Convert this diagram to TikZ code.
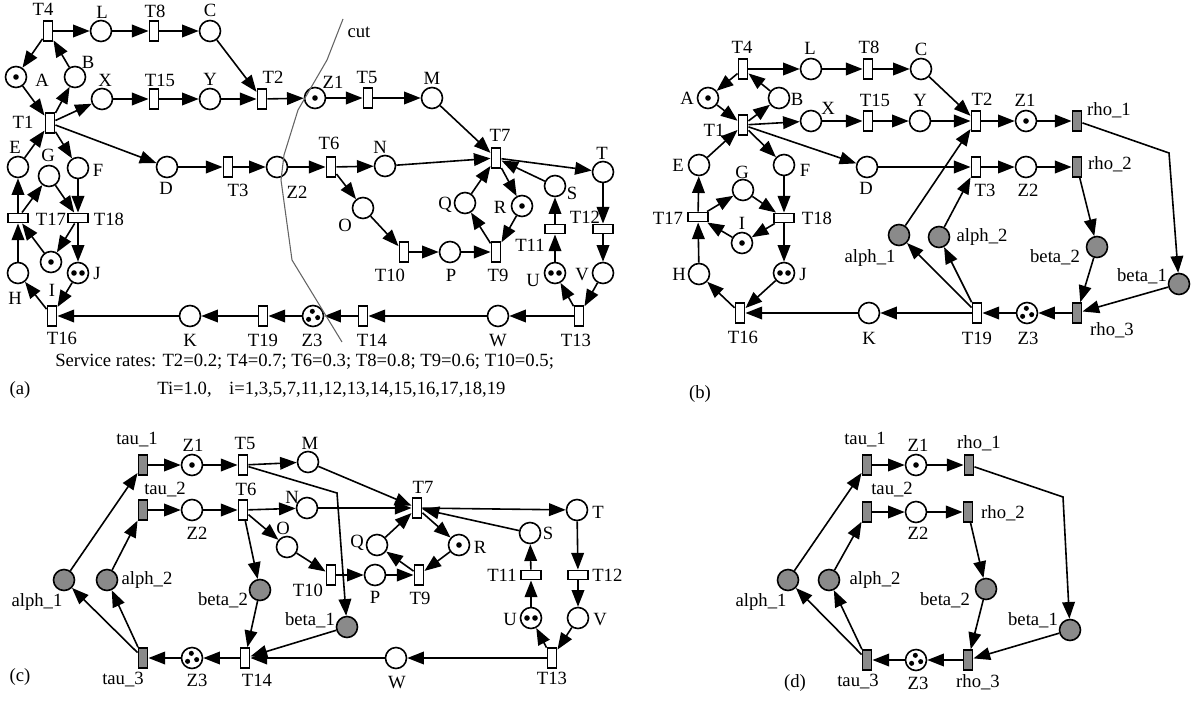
\documentclass[tikz,border=0pt]{standalone}
\usepackage{fontspec}
\setmainfont{Liberation Serif}
\usetikzlibrary{arrows.meta}
\definecolor{gfill}{RGB}{138,138,138}
\definecolor{cutc}{RGB}{100,100,100}
\begin{document}
\begin{tikzpicture}[x=0.75pt,y=-0.75pt,
 pl/.style={circle,draw,line width=1.2pt,minimum size=15.75pt,inner sep=0pt,fill=white},
 gp/.style={pl,fill=gfill},
 tv/.style={rectangle,draw,line width=1.2pt,minimum width=7pt,minimum height=15pt,inner sep=0pt,fill=white},
 th/.style={rectangle,draw,line width=1.2pt,minimum width=15pt,minimum height=7pt,inner sep=0pt,fill=white},
 tg/.style={tv,fill=gfill},
 arc/.style={line width=1.2pt,-{Triangle[length=12.5pt,width=9.5pt]}},
 lbl/.style={inner sep=0pt,font=\fontsize{14}{16}\selectfont},
 tka/.style={path picture={\fill[black] (path picture bounding box.center) circle (2.1pt);}},
 tkb/.style={path picture={\fill[black,shift={(path picture bounding box.center)}] (-3pt,0pt) circle (2.1pt) (3pt,0pt) circle (2.1pt);}},
 tkc/.style={path picture={\fill[black,shift={(path picture bounding box.center)}] (-0.5pt,3.5pt) circle (1.9pt) (-3.3pt,-2.5pt) circle (1.9pt) (3.5pt,-1.2pt) circle (1.9pt);}},
]
\useasboundingbox (0,0) rectangle (1194,700);
% ================= (a) =================
\node[tv] (aT4) at (48,31) {};
\node[pl] (aL) at (101,31) {};
\node[tv] (aT8) at (154,31) {};
\node[pl] (aC) at (210,31) {};
\node[pl,tka] (aA) at (16,77) {};
\node[pl] (aB) at (75,77) {};
\node[tv] (aT1) at (50,123) {};
\node[pl] (aX) at (102,99) {};
\node[tv] (aT15) at (154,99) {};
\node[pl] (aY) at (210,99) {};
\node[tv] (aT2) at (262,99) {};
\node[pl,tka] (aZ1) at (315,98) {};
\node[tv] (aT5) at (368,98) {};
\node[pl] (aM) at (432,98) {};
\node[pl] (aE) at (18,167) {};
\node[pl] (aG) at (49,176) {};
\node[pl] (aF) at (78,168) {};
\node[pl] (aD) at (167,167) {};
\node[tv] (aT3) at (228,167) {};
\node[pl] (aZ2) at (277,167) {};
\node[tv] (aT6) at (331,167) {};
\node[pl] (aN) at (385,166) {};
\node[tv] (aT7) at (496,158) {};
\node[pl] (aT) at (603,172) {};
\node[pl] (aS) at (555,186) {};
\node[pl] (aQ) at (465,203) {};
\node[pl,tka] (aR) at (522,206) {};
\node[pl] (aO) at (363,208) {};
\node[tv] (aT10) at (404,252) {};
\node[pl] (aP) at (450,252) {};
\node[tv] (aT9) at (496,252) {};
\node[th] (aT11) at (555,229) {};
\node[th] (aT12) at (603,229) {};
\node[pl,tkb] (aU) at (555,273) {};
\node[pl] (aV) at (603,273) {};
\node[th] (aT17) at (18,218) {};
\node[th] (aT18) at (78,218) {};
\node[pl,tka] (aI) at (51,262) {};
\node[pl,tkb] (aJ) at (78,273) {};
\node[pl] (aH) at (18,273) {};
\node[tv] (aT16) at (52,316) {};
\node[pl] (aK) at (190,316) {};
\node[tv] (aT19) at (263,316) {};
\node[pl,tkc] (aZ3) at (313,316) {};
\node[tv] (aT14) at (363,316) {};
\node[pl] (aW) at (498,316) {};
\node[tv] (aT13) at (579,316) {};
\foreach \s/\t in {aT4/aA,aB/aT4,aT4/aL,aL/aT8,aT8/aC,aC/aT2,aA/aT1,aT1/aB,aT1/aX,aX/aT15,aT15/aY,aY/aT2,aT2/aZ1,aZ1/aT5,aT5/aM,aM/aT7,aE/aT1,aT1/aF,aT1/aD,aD/aT3,aT3/aZ2,aZ2/aT6,aT6/aN,aN/aT7,aT6/aO,aO/aT10,aT10/aP,aP/aT9,aT9/aQ,aQ/aT7,aT7/aR,aR/aT9,aT7/aT,aS/aT7,aT/aT12,aT12/aV,aV/aT13,aT13/aU,aU/aT11,aT11/aS,aT13/aW,aW/aT14,aT14/aZ3,aZ3/aT19,aT19/aK,aK/aT16,aJ/aT16,aT16/aH,aH/aT17,aT17/aE,aT17/aG,aG/aT18,aF/aT18,aT18/aI,aI/aT17,aT18/aJ}
  \draw[arc] (\s) -- (\t);
\draw[cutc,line width=0.8pt] (343,19) -- (327,60) -- (298,110) -- (284,155) -- (281,180) -- (292,260) -- (342,342);
\node[lbl] (la1) at (359,32) {cut};
\node[lbl] (la2) at (43,9) {T4};
\node[lbl] (la3) at (102,12) {L};
\node[lbl] (la4) at (155,11) {T8};
\node[lbl] (la5) at (210,10) {C};
\node[lbl] (la6) at (42,80) {A};
\node[lbl] (la7) at (88,62) {B};
\node[lbl] (la8) at (105,80) {X};
\node[lbl] (la9) at (160,80) {T15};
\node[lbl] (la10) at (210,79) {Y};
\node[lbl] (la11) at (273,77) {T2};
\node[lbl] (la12) at (23,122) {T1};
\node[lbl] (la13) at (15,147) {E};
\node[lbl] (la14) at (48,155) {G};
\node[lbl] (la15) at (98,170) {F};
\node[lbl] (la16) at (166,188) {D};
\node[lbl] (la17) at (238,190) {T3};
\node[lbl] (la18) at (297,192) {Z2};
\node[lbl] (la19) at (333,82) {Z1};
\node[lbl] (la20) at (367,77) {T5};
\node[lbl] (la21) at (432,78) {M};
\node[lbl] (la22) at (329,143) {T6};
\node[lbl] (la23) at (380,147) {N};
\node[lbl] (la24) at (500,135) {T7};
\node[lbl] (la25) at (602,153) {T};
\node[lbl] (la26) at (572,193) {S};
\node[lbl] (la27) at (445,205) {Q};
\node[lbl] (la28) at (500,207) {R};
\node[lbl] (la29) at (345,225) {O};
\node[lbl] (la30) at (390,275) {T10};
\node[lbl] (la31) at (451,275) {P};
\node[lbl] (la32) at (498,275) {T9};
\node[lbl] (la33) at (530,245) {T11};
\node[lbl] (la34) at (585,217) {T12};
\node[lbl] (la35) at (533,280) {U};
\node[lbl] (la36) at (582,275) {V};
\node[lbl] (la37) at (51,219) {T17};
\node[lbl] (la38) at (109,219) {T18};
\node[lbl] (la39) at (52,290) {I};
\node[lbl] (la40) at (97,273) {J};
\node[lbl] (la41) at (15,298) {H};
\node[lbl] (la42) at (62,338) {T16};
\node[lbl] (la43) at (190,340) {K};
\node[lbl] (la44) at (263,340) {T19};
\node[lbl] (la45) at (312,340) {Z3};
\node[lbl] (la46) at (372,340) {T14};
\node[lbl] (la47) at (498,341) {W};
\node[lbl] (la48) at (576,340) {T13};
\node[lbl,anchor=west] (la49) at (55,362) {Service rates: T2=0.2; T4=0.7; T6=0.3; T8=0.8; T9=0.6; T10=0.5;};
\node[lbl,anchor=west] (la50) at (157,390) {Ti=1.0,\hspace{13pt}i=1,3,5,7,11,12,13,14,15,16,17,18,19};
\node[lbl] (la51) at (20,390) {(a)};
% ================= (b) =================
\node[tv] (bT4) at (743,69) {};
\node[pl] (bL) at (811,69) {};
\node[tv] (bT8) at (868,69) {};
\node[pl] (bC) at (921,69) {};
\node[pl,tka] (bA) at (708,98) {};
\node[pl] (bB) at (779,98) {};
\node[tv] (bT1) at (743,125) {};
\node[pl] (bX) at (811,121) {};
\node[tv] (bT15) at (868,121) {};
\node[pl] (bY) at (920,121) {};
\node[tv] (bT2) at (976,121) {};
\node[pl,tka] (bZ1) at (1026,121) {};
\node[tg] (brho1) at (1077,121) {};
\node[pl] (bE) at (699,165) {};
\node[pl] (bF) at (784,165) {};
\node[pl] (bD) at (867,167) {};
\node[pl] (bG) at (743,190) {};
\node[tv] (bT3) at (976,167) {};
\node[pl] (bZ2) at (1026,167) {};
\node[tg] (brho2) at (1077,167) {};
\node[th] (bT17) at (698,217) {};
\node[th] (bT18) at (784,218) {};
\node[pl,tka] (bI) at (742,243) {};
\node[pl,tkb] (bJ) at (784,273) {};
\node[pl] (bH) at (699,274) {};
\node[tv] (bT16) at (740,313) {};
\node[pl] (bK) at (869,313) {};
\node[tv] (bT19) at (977,313) {};
\node[pl,tkc] (bZ3) at (1027,313) {};
\node[tg] (brho3) at (1077,313) {};
\node[gp] (balph1) at (899,235) {};
\node[gp] (balph2) at (939,237) {};
\node[gp] (bbeta2) at (1097,247) {};
\node[gp] (bbeta1) at (1179,284) {};
\coordinate (bk1) at (1169,153);
\foreach \s/\t in {bT4/bA,bB/bT4,bT4/bL,bL/bT8,bT8/bC,bC/bT2,bA/bT1,bT1/bB,bT1/bX,bX/bT15,bT15/bY,bY/bT2,bT2/bZ1,bZ1/brho1,bE/bT1,bT1/bF,bT1/bD,bD/bT3,bT3/bZ2,bZ2/brho2,brho2/bbeta2,bbeta2/brho3,bbeta1/brho3,brho3/bZ3,bZ3/bT19,bT19/bK,bK/bT16,bJ/bT16,bT16/bH,bH/bT17,bT17/bE,bT17/bG,bG/bT18,bF/bT18,bT18/bI,bI/bT17,bT18/bJ,bT19/balph1,bT19/balph2,balph1/bT2,balph2/bT3}
  \draw[arc] (\s) -- (\t);
\draw[arc] (brho1) -- (bk1) -- (bbeta1);
\node[lbl] (lb1) at (742,47) {T4};
\node[lbl] (lb2) at (810,48) {L};
\node[lbl] (lb3) at (869,47) {T8};
\node[lbl] (lb4) at (921,49) {C};
\node[lbl] (lb5) at (687,98) {A};
\node[lbl] (lb6) at (797,99) {B};
\node[lbl] (lb7) at (714,130) {T1};
\node[lbl] (lb8) at (828,108) {X};
\node[lbl] (lb9) at (875,100) {T15};
\node[lbl] (lb10) at (920,100) {Y};
\node[lbl] (lb11) at (982,99) {T2};
\node[lbl] (lb12) at (1025,100) {Z1};
\node[lbl] (lb13) at (1109,110) {rho\_1};
\node[lbl] (lb14) at (678,165) {E};
\node[lbl] (lb15) at (805,170) {F};
\node[lbl] (lb16) at (866,188) {D};
\node[lbl] (lb17) at (742,172) {G};
\node[lbl] (lb18) at (985,190) {T3};
\node[lbl] (lb19) at (1028,190) {Z2};
\node[lbl] (lb20) at (1110,164) {rho\_2};
\node[lbl] (lb21) at (668,218) {T17};
\node[lbl] (lb22) at (817,218) {T18};
\node[lbl] (lb23) at (742,223) {I};
\node[lbl] (lb24) at (679,274) {H};
\node[lbl] (lb25) at (803,274) {J};
\node[lbl] (lb26) at (743,337) {T16};
\node[lbl] (lb27) at (869,338) {K};
\node[lbl] (lb28) at (977,338) {T19};
\node[lbl] (lb29) at (1028,338) {Z3};
\node[lbl] (lb30) at (1112,330) {rho\_3};
\node[lbl] (lb31) at (870,258) {alph\_1};
\node[lbl] (lb32) at (982,237) {alph\_2};
\node[lbl] (lb33) at (1055,257) {beta\_2};
\node[lbl] (lb34) at (1142,276) {beta\_1};
\node[lbl] (lb35) at (700,394) {(b)};
% ================= (c) =================
\node[tg] (ctau1) at (143,465) {};
\node[pl,tka] (cZ1) at (192,465) {};
\node[tv] (cT5) at (243,465) {};
\node[pl] (cM) at (308,462) {};
\node[tg] (ctau2) at (143,510) {};
\node[pl] (cZ2) at (192,510) {};
\node[tv] (cT6) at (243,510) {};
\node[pl] (cN) at (307,508) {};
\node[pl] (cO) at (287,547) {};
\node[tv] (cT7) at (417,508) {};
\node[pl] (cT) at (577,510) {};
\node[pl] (cS) at (530,533) {};
\node[pl] (cQ) at (377,545) {};
\node[pl,tka] (cR) at (459,545) {};
\node[tv] (cT10) at (331,575) {};
\node[pl] (cP) at (375,575) {};
\node[tv] (cT9) at (419,575) {};
\node[th] (cT11) at (531,575) {};
\node[th] (cT12) at (578,575) {};
\node[pl,tkb] (cU) at (531,618) {};
\node[pl] (cV) at (578,618) {};
\node[gp] (calph1) at (64,580) {};
\node[gp] (calph2) at (107,580) {};
\node[gp] (cbeta2) at (260,590) {};
\node[gp] (cbeta1) at (347,627) {};
\node[tg] (ctau3) at (143,658) {};
\node[pl,tkc] (cZ3) at (192,658) {};
\node[tv] (cT14) at (245,658) {};
\node[pl] (cW) at (396,658) {};
\node[tv] (cT13) at (552,658) {};
\coordinate (ck1) at (337,493);
\foreach \s/\t in {ctau1/cZ1,cZ1/cT5,cT5/cM,ctau2/cZ2,cZ2/cT6,cT6/cN,cT6/cO,cT6/cbeta2,cM/cT7,cN/cT7,cO/cT10,cT10/cP,cP/cT9,cT9/cQ,cQ/cT7,cT7/cR,cR/cT9,cT7/cT,cS/cT7,cT/cT12,cT12/cV,cV/cT13,cT13/cU,cU/cT11,cT11/cS,cT13/cW,cW/cT14,cbeta1/cT14,cbeta2/cT14,cT14/cZ3,cZ3/ctau3,ctau3/calph1,ctau3/calph2,calph1/ctau1,calph2/ctau2}
  \draw[arc] (\s) -- (\t);
\draw[arc] (cT5) -- (ck1) -- (cbeta1);
\node[lbl] (lc1) at (137,440) {tau\_1};
\node[lbl] (lc2) at (193,445) {Z1};
\node[lbl] (lc3) at (245,443) {T5};
\node[lbl] (lc4) at (165,490) {tau\_2};
\node[lbl] (lc5) at (246,489) {T6};
\node[lbl] (lc6) at (197,533) {Z2};
\node[lbl] (lc7) at (283,528) {O};
\node[lbl] (lc8) at (292,497) {N};
\node[lbl] (lc9) at (310,443) {M};
\node[lbl] (lc10) at (423,487) {T7};
\node[lbl] (lc11) at (598,512) {T};
\node[lbl] (lc12) at (548,533) {S};
\node[lbl] (lc13) at (357,543) {Q};
\node[lbl] (lc14) at (480,547) {R};
\node[lbl] (lc15) at (308,590) {T10};
\node[lbl] (lc16) at (375,597) {P};
\node[lbl] (lc17) at (420,598) {T9};
\node[lbl] (lc18) at (502,575) {T11};
\node[lbl,anchor=west] (lc19) at (592,575) {T12};
\node[lbl] (lc20) at (510,619) {U};
\node[lbl] (lc21) at (600,620) {V};
\node[lbl] (lc22) at (310,620) {beta\_1};
\node[lbl] (lc23) at (223,600) {beta\_2};
\node[lbl] (lc24) at (37,602) {alph\_1};
\node[lbl] (lc25) at (147,580) {alph\_2};
\node[lbl] (lc26) at (123,680) {tau\_3};
\node[lbl] (lc27) at (197,680) {Z3};
\node[lbl] (lc28) at (257,680) {T14};
\node[lbl] (lc29) at (397,683) {W};
\node[lbl] (lc30) at (552,678) {T13};
\node[lbl] (lc31) at (20,677) {(c)};
% ================= (d) =================
\node[tg] (dtau1) at (867,465) {};
\node[pl,tka] (dZ1) at (916,465) {};
\node[tg] (drho1) at (969,465) {};
\node[tg] (dtau2) at (867,512) {};
\node[pl] (dZ2) at (916,512) {};
\node[tg] (drho2) at (968,512) {};
\node[gp] (dalph1) at (788,580) {};
\node[gp] (dalph2) at (829,580) {};
\node[gp] (dbeta2) at (986,589) {};
\node[gp] (dbeta1) at (1070,630) {};
\node[tg] (dtau3) at (867,660) {};
\node[pl,tkc] (dZ3) at (916,660) {};
\node[tg] (drho3) at (968,660) {};
\coordinate (dk1) at (1063,497);
\foreach \s/\t in {dtau1/dZ1,dZ1/drho1,dtau2/dZ2,dZ2/drho2,drho2/dbeta2,dbeta2/drho3,dbeta1/drho3,drho3/dZ3,dZ3/dtau3,dtau3/dalph1,dtau3/dalph2,dalph1/dtau1,dalph2/dtau2}
  \draw[arc] (\s) -- (\t);
\draw[arc] (drho1) -- (dk1) -- (dbeta1);
\node[lbl] (ld1) at (865,440) {tau\_1};
\node[lbl] (ld2) at (918,445) {Z1};
\node[lbl] (ld3) at (979,443) {rho\_1};
\node[lbl] (ld4) at (892,490) {tau\_2};
\node[lbl] (ld5) at (918,533) {Z2};
\node[lbl] (ld6) at (1003,513) {rho\_2};
\node[lbl] (ld7) at (761,602) {alph\_1};
\node[lbl] (ld8) at (875,580) {alph\_2};
\node[lbl] (ld9) at (945,600) {beta\_2};
\node[lbl] (ld10) at (1033,620) {beta\_1};
\node[lbl] (ld11) at (858,682) {tau\_3};
\node[lbl] (ld12) at (918,683) {Z3};
\node[lbl] (ld13) at (978,682) {rho\_3};
\node[lbl] (ld14) at (795,683) {(d)};
\end{tikzpicture}
\end{document}
